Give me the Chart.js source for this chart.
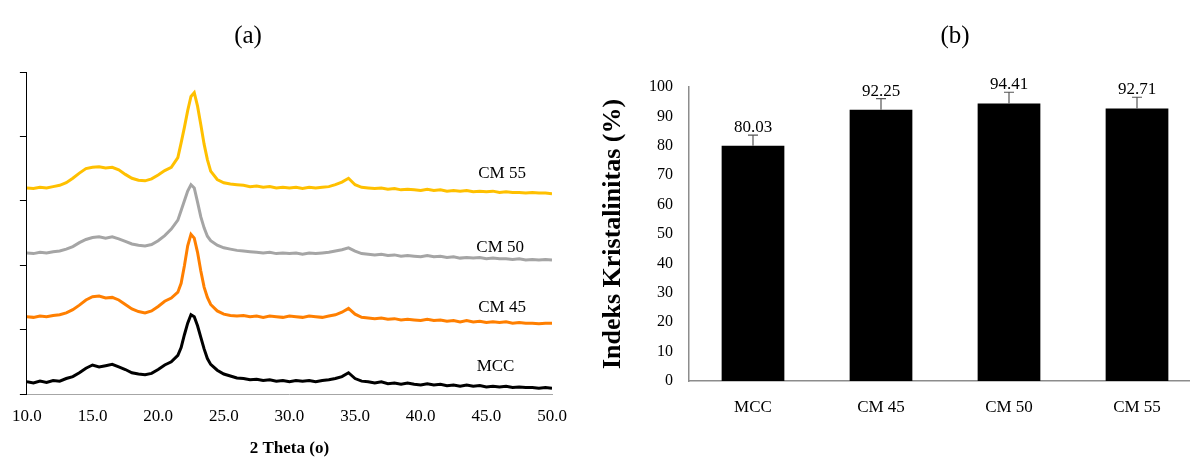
<!DOCTYPE html>
<html>
<head>
<meta charset="utf-8">
<script src="https://cdn.jsdelivr.net/npm/chart.js@4"></script>
<style>
  html, body { margin: 0; padding: 0; background: #fff; overflow: hidden; }
  body { width: 1190px; height: 457px; position: relative; }
  #boxA { position: absolute; left: 0; top: 0; }
  #boxB { position: absolute; left: 580px; top: 0; }
</style>
</head>
<body>
<div id="boxA"><canvas id="xrdChart" width="580" height="457"></canvas></div>
<div id="boxB"><canvas id="ciChart" width="640" height="457"></canvas></div>
<script>
// (a) XRD patterns, intensity in stacked arbitrary units
const twoTheta = [
  10, 10.5, 11, 11.5, 12, 12.5, 13, 13.5, 14, 14.5, 15, 15.5, 16, 16.5, 17, 17.5,
  18, 18.5, 19, 19.5, 20, 20.5, 21, 21.5,
  21.75, 22, 22.25, 22.5, 22.75, 23, 23.25, 23.5, 23.75,
  24, 24.5, 25, 25.5, 26, 26.5, 27, 27.5, 28, 28.5, 29, 29.5, 30, 30.5, 31, 31.5,
  32, 32.5, 33, 33.5, 34, 34.5, 35, 35.5, 36, 36.5, 37, 37.5, 38, 38.5, 39, 39.5,
  40, 40.5, 41, 41.5, 42, 42.5, 43, 43.5, 44, 44.5, 45, 45.5, 46, 46.5, 47, 47.5,
  48, 48.5, 49, 49.5, 50
];
const mcc = [
  .19, .17, .20, .18, .21, .20, .24, .27, .33, .40, .45, .42, .44, .46, .42, .38,
  .33, .31, .30, .32, .38, .45, .50, .60,
  .72, .92, 1.10, 1.23, 1.20, 1.06, .88, .70, .55,
  .46, .37, .31, .28, .25, .24, .22, .23, .21, .22, .20, .21, .19, .21, .20, .21,
  .19, .21, .22, .24, .27, .33, .24, .20, .19, .17, .19, .16, .17, .15, .17, .15,
  .14, .16, .14, .15, .13, .14, .12, .14, .12, .13, .11, .12, .11, .12, .10, .11,
  .10, .10, .09, .10, .09
];
const cm45 = [
  1.20, 1.19, 1.21, 1.20, 1.22, 1.23, 1.26, 1.31, 1.38, 1.46, 1.51, 1.52, 1.49, 1.50, 1.46, 1.39,
  1.32, 1.28, 1.26, 1.29, 1.36, 1.44, 1.49, 1.58,
  1.72, 1.99, 2.30, 2.48, 2.42, 2.20, 1.91, 1.66, 1.50,
  1.39, 1.29, 1.24, 1.22, 1.21, 1.22, 1.20, 1.21, 1.19, 1.21, 1.20, 1.19, 1.21, 1.20, 1.19, 1.21,
  1.20, 1.19, 1.21, 1.23, 1.27, 1.33, 1.24, 1.19, 1.18, 1.17, 1.18, 1.16, 1.17, 1.15, 1.16, 1.15,
  1.14, 1.16, 1.14, 1.15, 1.13, 1.14, 1.12, 1.14, 1.12, 1.13, 1.11, 1.12, 1.11, 1.12, 1.10, 1.11,
  1.10, 1.10, 1.09, 1.10, 1.10
];
const cm50 = [
  2.19, 2.18, 2.20, 2.19, 2.21, 2.22, 2.25, 2.29, 2.35, 2.40, 2.43, 2.44, 2.42, 2.44, 2.41, 2.37,
  2.33, 2.31, 2.30, 2.32, 2.38, 2.46, 2.56, 2.70,
  2.85, 3.00, 3.15, 3.25, 3.20, 2.98, 2.75, 2.58, 2.45,
  2.38, 2.31, 2.27, 2.25, 2.23, 2.22, 2.21, 2.20, 2.19, 2.20, 2.18, 2.19, 2.18, 2.19, 2.17, 2.19,
  2.18, 2.19, 2.20, 2.22, 2.24, 2.27, 2.22, 2.18, 2.17, 2.16, 2.17, 2.15, 2.16, 2.14, 2.15, 2.14,
  2.13, 2.15, 2.13, 2.14, 2.12, 2.13, 2.11, 2.12, 2.11, 2.12, 2.10, 2.11, 2.10, 2.10, 2.09, 2.10,
  2.08, 2.09, 2.08, 2.09, 2.08
];
const cm55 = [
  3.20, 3.19, 3.21, 3.20, 3.22, 3.24, 3.28, 3.35, 3.43, 3.50, 3.52, 3.53, 3.51, 3.52, 3.48, 3.41,
  3.35, 3.32, 3.31, 3.34, 3.40, 3.47, 3.52, 3.67,
  3.90, 4.14, 4.40, 4.62, 4.68, 4.47, 4.18, 3.88, 3.64,
  3.46, 3.33, 3.28, 3.26, 3.25, 3.24, 3.22, 3.23, 3.21, 3.22, 3.20, 3.21, 3.20, 3.21, 3.19, 3.21,
  3.20, 3.21, 3.22, 3.25, 3.29, 3.35, 3.25, 3.21, 3.20, 3.19, 3.20, 3.18, 3.19, 3.17, 3.18, 3.17,
  3.16, 3.18, 3.16, 3.17, 3.15, 3.16, 3.15, 3.16, 3.14, 3.15, 3.14, 3.15, 3.13, 3.14, 3.13, 3.13,
  3.12, 3.13, 3.12, 3.12, 3.11
];
const xrdNames = ["MCC", "CM 45", "CM 50", "CM 55"];
const xrdColors = ["#000000", "#FF7F00", "#A5A5A5", "#FFC000"];

// (b) crystallinity index
const samples = ["MCC", "CM 45", "CM 50", "CM 55"];
const crystIndex = [80.03, 92.25, 94.41, 92.71];
const crystError = [3.6, 3.8, 3.8, 3.8];

const serif = "'Liberation Serif', 'Times New Roman', serif";
Chart.defaults.font.family = serif;
Chart.defaults.color = "#000";

const pairs = (ys) => twoTheta.map((x, i) => ({ x: x, y: ys[i] }));

const xrdText = {
  id: "xrdText",
  afterDraw(chart) {
    const ctx = chart.ctx;
    const xs = chart.scales.x, ys = chart.scales.y;
    const spots = [[45.7, 0.42], [46.2, 1.34], [46.05, 2.27], [46.2, 3.42]];
    ctx.save();
    ctx.fillStyle = "#000";
    ctx.textAlign = "center";
    ctx.textBaseline = "middle";
    ctx.font = "17px " + serif;
    xrdNames.forEach((name, i) => {
      ctx.fillText(name, xs.getPixelForValue(spots[i][0]), ys.getPixelForValue(spots[i][1]));
    });
    ctx.font = "25px " + serif;
    ctx.fillText("(a)", 248, 36);
    ctx.restore();
  },
};

new Chart(document.getElementById("xrdChart"), {
  type: "line",
  data: {
    datasets: [mcc, cm45, cm50, cm55].map((ys, i) => ({
      label: xrdNames[i],
      data: pairs(ys),
      borderColor: xrdColors[i],
      borderWidth: 3,
      pointRadius: 0,
      tension: 0,
      fill: false,
    })),
  },
  options: {
    responsive: false,
    animation: false,
    layout: { padding: { top: 72, right: 28, left: 0, bottom: 0 } },
    plugins: { legend: { display: false }, tooltip: { enabled: false } },
    scales: {
      x: {
        type: "linear",
        min: 10,
        max: 50,
        ticks: {
          stepSize: 5,
          callback: (v) => v.toFixed(1),
          font: { size: 17 },
          color: "#000",
          padding: 12,
          maxRotation: 0,
          autoSkip: false,
        },
        grid: { display: false, drawTicks: false },
        border: { color: "#a6a6a6", width: 1 },
        title: {
          display: true,
          text: "2 Theta (o)",
          font: { size: 17, weight: "bold", lineHeight: 1 },
          color: "#000",
          padding: 0,
        },
        afterFit: (s) => { s.height = 63; },
      },
      y: {
        min: 0,
        max: 5,
        ticks: { display: false, stepSize: 1 },
        grid: { display: true, drawOnChartArea: false, drawTicks: true, tickLength: 7, color: "#000" },
        border: { color: "#000", width: 1 },
        afterFit: (s) => { s.width = 24; },
      },
    },
  },
  plugins: [xrdText],
});

const errorBars = {
  id: "errorBars",
  afterDatasetsDraw(chart) {
    const ctx = chart.ctx;
    const meta = chart.getDatasetMeta(0);
    const ys = chart.scales.y;
    ctx.save();
    meta.data.forEach((bar, i) => {
      const top = ys.getPixelForValue(crystIndex[i] + crystError[i]);
      ctx.strokeStyle = "#555";
      ctx.lineWidth = 1.2;
      ctx.beginPath();
      ctx.moveTo(bar.x, bar.y);
      ctx.lineTo(bar.x, top);
      ctx.moveTo(bar.x - 5, top);
      ctx.lineTo(bar.x + 5, top);
      ctx.stroke();
      ctx.fillStyle = "#000";
      ctx.font = "17px " + serif;
      ctx.textAlign = "center";
      ctx.textBaseline = "alphabetic";
      ctx.fillText(crystIndex[i].toFixed(2), bar.x, top - 3);
    });
    ctx.font = "25px " + serif;
    ctx.textBaseline = "middle";
    ctx.fillText("(b)", 375, 36);
    ctx.restore();
  },
};

new Chart(document.getElementById("ciChart"), {
  type: "bar",
  data: {
    labels: samples,
    datasets: [
      {
        data: crystIndex,
        backgroundColor: "#000000",
        borderWidth: 0,
        categoryPercentage: 1,
        barPercentage: 0.49,
      },
    ],
  },
  options: {
    responsive: false,
    animation: false,
    layout: { padding: { top: 87, right: 19, left: 0, bottom: 0 } },
    plugins: { legend: { display: false }, tooltip: { enabled: false } },
    scales: {
      x: {
        ticks: { font: { size: 17 }, color: "#000", padding: 16 },
        grid: { display: false, drawTicks: false },
        border: { color: "#8c8c8c", width: 1.5 },
        afterFit: (s) => { s.height = 76; },
      },
      y: {
        min: 0,
        max: 100,
        ticks: { stepSize: 10, font: { size: 16 }, color: "#000", padding: 16 },
        grid: { display: false, drawTicks: false },
        border: { color: "#8c8c8c", width: 1.5 },
        title: {
          display: true,
          text: "Indeks Kristalinitas (%)",
          font: { size: 26, weight: "bold", lineHeight: 1.2 },
          color: "#000",
          padding: { top: 17.4, bottom: 0 },
        },
        afterFit: (s) => { s.width = 109; },
      },
    },
  },
  plugins: [errorBars],
});
</script>
</body>
</html>
